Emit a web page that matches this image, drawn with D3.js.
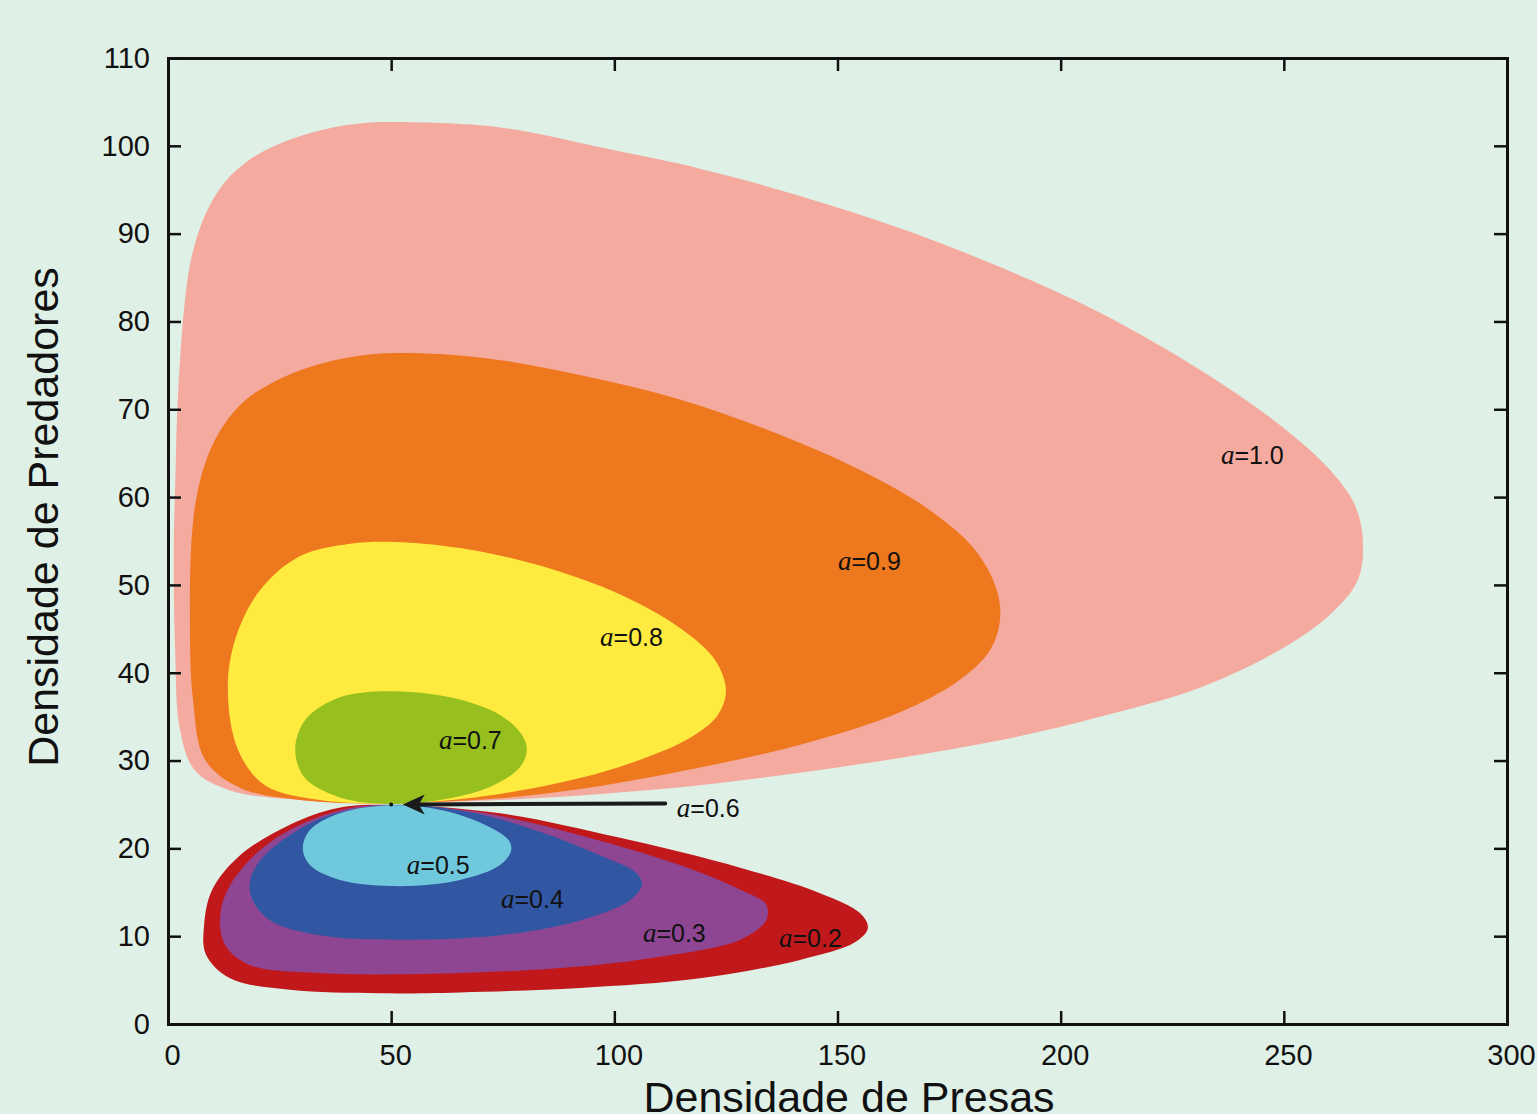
<!DOCTYPE html>
<html>
<head>
<meta charset="utf-8">
<script src="https://cdn.jsdelivr.net/npm/d3@7"></script>
<style>
  html, body { margin: 0; padding: 0; background: #dff0e6; }
  svg { display: block; }
  .tick text { font-family: "Liberation Sans", Arial, sans-serif; font-size: 29px; fill: #111; }
</style>
</head>
<body>
<svg id="chart" width="1537" height="1114"></svg>
<script>
// Ciclos presa–predador para vários valores do parâmetro a
const xTicks = [0, 50, 100, 150, 200, 250, 300];
const yTicks = [0, 10, 20, 30, 40, 50, 60, 70, 80, 90, 100, 110];

const orbitA10 = [[50,25.05],[29.6,25.5],[13.9,26.6],[6.0,28.9],[2.7,33.5],[1.6,42.6],[1.3,54.0],[1.7,63.0],[2.2,71.1],[3.8,82.4],[5.4,87.6],[8.3,92.1],[12.8,95.9],[18.8,98.6],[26.2,100.5],[35.2,101.9],[44.1,102.6],[50.4,102.7],[74.4,102.1],[99.0,99.6],[119.2,97.4],[141.6,94.3],[164.0,90.6],[186.4,86.2],[208.8,81.0],[231.2,74.5],[249.1,68.2],[260.3,63.1],[265.9,59.1],[267.7,55.1],[266.6,50.6],[260.3,46.6],[249.1,42.6],[231.2,38.3],[208.8,35.0],[186.4,32.3],[164.0,30.3],[141.6,28.6],[119.2,27.2],[96.8,26.2],[74.4,25.5],[56.5,25.2]];
const orbitA09 = [[50,25.05],[29.6,25.5],[16.1,26.9],[8.3,30.1],[5.6,36.9],[4.9,47.1],[5.4,56.0],[6.7,60.8],[9.0,64.8],[12.5,68.2],[17.5,71.1],[24.0,73.2],[32.3,74.9],[41.9,76.0],[50.9,76.4],[69.9,75.9],[92.3,73.9],[114.7,71.1],[137.1,67.1],[155.0,63.1],[170.7,58.5],[180.8,54.0],[185.7,49.4],[186.4,46.0],[184.2,42.6],[177.4,39.2],[164.0,35.5],[141.6,31.8],[119.2,29.2],[96.8,27.1],[74.4,25.7],[56.5,25.2]];
const orbitA08 = [[50,25.05],[34.1,25.5],[21.7,27.2],[15.7,31.2],[13.4,38.0],[15.0,43.7],[20.6,49.4],[29.6,53.3],[40.8,54.7],[50.9,54.9],[65.4,54.2],[83.3,52.2],[101.3,48.9],[114.7,45.1],[122.5,41.5],[125.0,38.0],[123.2,35.2],[117.0,32.6],[105.8,30.1],[92.3,28.0],[74.4,26.2],[58.7,25.3]];
const orbitA07 = [[50,25.05],[38.5,25.8],[30.7,28.0],[28.5,31.2],[30.7,34.6],[38.5,37.2],[49.7,37.9],[63.2,37.2],[74.4,35.2],[79.3,32.9],[80.4,31.2],[78.8,29.2],[72.1,27.0],[60.9,25.5]];
const equilibriumA06 = [50, 25];
const orbitA05 = [[50,24.9],[60.9,24.4],[71.0,22.7],[76.2,21.0],[76.9,19.8],[74.4,18.1],[65.4,16.4],[52.0,15.7],[38.5,16.4],[31.8,18.1],[30.2,20.0],[31.8,22.1],[38.5,24.0]];
const orbitA04 = [[50,24.95],[67.7,24.1],[83.3,21.9],[96.8,19.2],[104.7,17.3],[106.2,15.9],[103.5,14.1],[92.3,11.8],[74.4,10.1],[52.0,9.6],[34.1,10.1],[22.9,11.8],[18.8,14.3],[18.4,16.4],[21.1,18.9],[27.3,21.5],[36.3,23.8]];
const orbitA03 = [[50,24.95],[69.9,24.1],[92.3,21.5],[114.7,18.1],[128.2,15.3],[134.0,13.6],[134.0,11.8],[128.2,9.6],[108.0,7.5],[85.6,6.3],[56.5,5.7],[34.1,5.8],[18.4,6.7],[12.8,9.0],[11.7,12.4],[13.9,15.8],[20.6,19.8],[29.6,22.7],[40.8,24.6]];
const orbitA02 = [[50,24.95],[74.4,24.0],[101.3,21.2],[128.2,17.8],[146.1,14.9],[155.1,12.6],[156.8,10.9],[153.9,9.3],[141.6,7.3],[119.2,5.2],[92.3,4.1],[65.4,3.6],[47.5,3.5],[27.3,3.9],[13.9,5.2],[8.5,7.9],[8.1,11.3],[9.9,15.3],[16.1,19.2],[27.3,22.7],[38.1,24.6]];

// Rótulos: valor de a e posição (canto esquerdo, centro vertical)
const labelValues = ["1.0", "0.9", "0.8", "0.7", "0.6", "0.5", "0.4", "0.3", "0.2"];
const labelPos = [[235.9,64.8],[150.1,52.7],[96.8,44.1],[60.7,32.3],[114.0,24.6],[53.5,18.1],[74.6,14.2],[106.4,10.4],[136.9,9.8]];

const orbits = [
  { pts: orbitA10, color: "#f4aa9f" },
  { pts: orbitA09, color: "#ee781e" },
  { pts: orbitA08, color: "#ffea40" },
  { pts: orbitA07, color: "#97c01e" },
  { pts: orbitA02, color: "#c0181b" },
  { pts: orbitA03, color: "#8e4592" },
  { pts: orbitA04, color: "#3157a3" },
  { pts: orbitA05, color: "#6fc8dc" }
];

const svg = d3.select("#chart");
const margin = { left: 168, top: 58, right: 30, bottom: 90 };
const W = 1537, H = 1114;

const x = d3.scaleLinear().domain([0, 300]).range([margin.left, W - margin.right]);
const y = d3.scaleLinear().domain([0, 110]).range([H - margin.bottom, margin.top]);

const line = d3.line()
  .x(d => x(d[0]))
  .y(d => y(d[1]))
  .curve(d3.curveCatmullRomClosed.alpha(0.5));

svg.append("g").selectAll("path")
  .data(orbits)
  .join("path")
  .attr("d", d => line(d.pts))
  .attr("fill", d => d.color)
  .attr("stroke", "none");

// Seta apontando para o ponto de equilíbrio (a=0.6)
svg.append("line")
  .attr("x1", x(111.4)).attr("y1", y(equilibriumA06[1]) - 1)
  .attr("x2", x(56.0)).attr("y2", y(equilibriumA06[1]))
  .attr("stroke", "#1a1a1a")
  .attr("stroke-width", 4)
  .attr("stroke-linecap", "round");

svg.append("path")
  .attr("d", `M${x(52.6)},${y(equilibriumA06[1])} l22,-10 l-6,10 l6,10 Z`)
  .attr("fill", "#1a1a1a");

svg.append("circle")
  .attr("cx", x(equilibriumA06[0]))
  .attr("cy", y(equilibriumA06[1]))
  .attr("r", 2)
  .attr("fill", "#111");

// Rótulos com "a" em itálico serifado
const labels = svg.append("g");
labelValues.forEach((v, i) => {
  const t = labels.append("text")
    .attr("x", x(labelPos[i][0]))
    .attr("y", y(labelPos[i][1]))
    .attr("dy", "0.36em")
    .attr("font-size", 25)
    .attr("fill", "#111");
  t.append("tspan")
    .attr("font-family", "'Liberation Serif', 'Times New Roman', serif")
    .attr("font-style", "italic")
    .attr("font-size", 27)
    .text("a");
  t.append("tspan")
    .attr("font-family", "'Liberation Sans', Arial, sans-serif")
    .text("=" + v);
});

// Eixos com marcas internas nos quatro lados
const tickLen = 13;
const gx = svg.append("g").attr("transform", `translate(0,${y(0)})`)
  .call(d3.axisBottom(x).tickValues(xTicks).tickSize(-tickLen).tickPadding(20).tickFormat(d3.format("d")));
const gxTop = svg.append("g").attr("transform", `translate(0,${y(110)})`)
  .call(d3.axisTop(x).tickValues(xTicks).tickSize(-tickLen).tickFormat(""));
const gy = svg.append("g").attr("transform", `translate(${x(0)},0)`)
  .call(d3.axisLeft(y).tickValues(yTicks).tickSize(-tickLen).tickPadding(18).tickFormat(d3.format("d")));
const gyRight = svg.append("g").attr("transform", `translate(${x(300)},0)`)
  .call(d3.axisRight(y).tickValues(yTicks).tickSize(-tickLen).tickFormat(""));

[gx, gxTop, gy, gyRight].forEach(g => {
  g.select(".domain").attr("stroke", "#111").attr("stroke-width", 3);
  g.selectAll(".tick line").attr("stroke", "#111").attr("stroke-width", 2.5);
});
gx.selectAll(".tick text").attr("dx", 4);

// Títulos dos eixos
svg.append("text")
  .attr("x", 849).attr("y", 1112)
  .attr("text-anchor", "middle")
  .attr("font-family", "'Liberation Sans', Arial, sans-serif")
  .attr("font-size", 43)
  .attr("fill", "#111")
  .text("Densidade de Presas");

svg.append("text")
  .attr("transform", "translate(58,517) rotate(-90)")
  .attr("text-anchor", "middle")
  .attr("font-family", "'Liberation Sans', Arial, sans-serif")
  .attr("font-size", 43)
  .attr("fill", "#111")
  .text("Densidade de Predadores");
</script>
</body>
</html>
